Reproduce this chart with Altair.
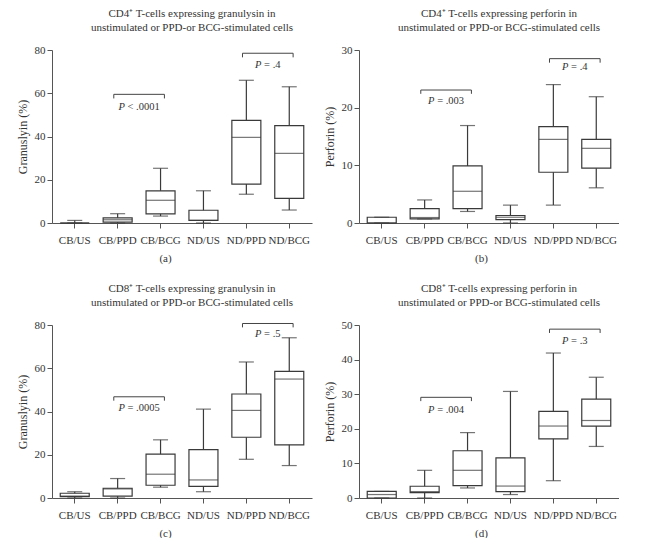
import altair as alt
import pandas as pd

FONT = "Liberation Serif"
INK = "#3a3a3a"

cats = ["CB/US", "CB/PPD", "CB/BCG", "ND/US", "ND/PPD", "ND/BCG"]

# (a) CD4+ granulysin
a_min = [0, 0, 3.2, 0, 13.3, 6]
a_q1 = [0, 0.4, 4.2, 1.2, 18, 11.4]
a_med = [0, 1.5, 10.5, 1.2, 39.6, 32.2]
a_q3 = [0, 2.4, 14.9, 5.9, 47.5, 45]
a_max = [1.2, 4.3, 25.3, 14.9, 66, 63]

# (b) CD4+ perforin
b_min = [0, 0.7, 2.0, 0, 3.1, 6.1]
b_q1 = [0, 0.7, 2.5, 0.6, 8.8, 9.5]
b_med = [0, 0.95, 5.5, 1.0, 14.5, 12.95]
b_q3 = [1.0, 2.5, 9.9, 1.3, 16.7, 14.5]
b_max = [1.0, 4.0, 16.9, 3.1, 24.0, 21.9]

# (c) CD8+ granulysin
c_min = [0, 0, 5.0, 2.9, 17.9, 15]
c_q1 = [0.6, 0.9, 5.9, 5.4, 28.1, 24.6]
c_med = [0.9, 4.2, 11, 8.35, 40.5, 55.0]
c_q3 = [2.2, 4.5, 20.3, 22.4, 48.1, 58.6]
c_max = [2.9, 9.0, 26.9, 41.1, 62.9, 74.1]

# (d) CD8+ perforin
d_min = [0, 0, 2.9, 1.0, 5.0, 14.9]
d_q1 = [0, 1.55, 3.6, 1.85, 17.1, 20.8]
d_med = [1.0, 1.85, 8.0, 3.45, 20.8, 22.4]
d_q3 = [1.9, 3.4, 13.65, 11.6, 25.05, 28.6]
d_max = [1.9, 8.0, 18.9, 30.8, 41.9, 34.9]

# y-axis ranges and tick steps (labels 0..max by step)
a_axis = (80, 20)
b_axis = (30, 10)
c_axis = (80, 20)
d_axis = (50, 10)

# brackets: (first, second, bracket level, tick end level, label level, label)
a_br = [("CB/PPD", "CB/BCG", 59.5, 57.6, 53.8, "< .0001"),
        ("ND/PPD", "ND/BCG", 78.5, 76.6, 73.0, "= .4")]
b_br = [("CB/PPD", "CB/BCG", 23.06, 22.4, 21.2, "= .003"),
        ("ND/PPD", "ND/BCG", 28.5, 27.8, 27.0, "= .4")]
c_br = [("CB/PPD", "CB/BCG", 46.8, 45.0, 41.6, "= .0005"),
        ("ND/PPD", "ND/BCG", 80.7, 78.9, 76.0, "= .5")]
d_br = [("CB/PPD", "CB/BCG", 29.1, 28.0, 25.5, "= .004"),
        ("ND/PPD", "ND/BCG", 48.8, 47.7, 45.4, "= .3")]

PFS = 10.5
CW = {"P": 0.611, " ": 0.25, "<": 0.564, "=": 0.564, ".": 0.25}


def tw(s):
    return sum(CW.get(ch, 0.5) for ch in s) * PFS


def panel(key, title_lines, ytitle, yaxis, caption, cap_x, mins, q1s, meds, q3s, maxs, brackets):
    ymax, ystep = yaxis
    lo, q1, md, q3, hi = (f"{key}_lo", f"{key}_q1", f"{key}_med", f"{key}_q3", f"{key}_hi")
    df = pd.DataFrame({"cat": cats, lo: mins, q1: q1s, md: meds, q3: q3s, hi: maxs})
    xs = alt.Scale(domain=cats, paddingInner=0, paddingOuter=0.03)
    ys = alt.Scale(domain=[0, ymax], nice=False, zero=True)
    xax = alt.Axis(title=caption, labelAngle=0, tickSize=5, labelPadding=6,
                   titlePadding=7, titleX=cap_x, labelFont=FONT, labelFontSize=11,
                   titleFont=FONT, titleFontSize=11, titleFontWeight="normal",
                   labelColor="#333", titleColor="#333", domainColor="#555", tickColor="#555")
    yax = alt.Axis(title=ytitle, tickCount=int(ymax / ystep), tickSize=5, labelPadding=2,
                   grid=False, labelOverlap=False, titlePadding=5, labelFont=FONT,
                   labelFontSize=11, titleFont=FONT, titleFontSize=12, titleFontWeight="normal",
                   labelColor="#333", titleColor="#333", domainColor="#555", tickColor="#555")
    X = alt.X("cat:N", scale=xs, axis=xax, sort=cats)
    whisk = alt.Chart(df).mark_rule(color=INK, strokeWidth=1.2).encode(
        x=X, y=alt.Y(f"{lo}:Q", scale=ys, axis=yax), y2=f"{hi}:Q")
    box = alt.Chart(df).mark_bar(width=29, fill="white", stroke=INK, strokeWidth=1.2).encode(
        x=X, y=f"{q1}:Q", y2=f"{q3}:Q")
    med = alt.Chart(df).mark_tick(size=29, thickness=1.2, color=INK).encode(x=X, y=f"{md}:Q")
    caplo = alt.Chart(df).mark_tick(size=15, thickness=1.2, color=INK).encode(x=X, y=f"{lo}:Q")
    caphi = alt.Chart(df).mark_tick(size=15, thickness=1.2, color=INK).encode(x=X, y=f"{hi}:Q")
    layers = [whisk, box, med, caplo, caphi]
    for (c1, c2, yb, ye, yt, lab) in brackets:
        bdf = pd.DataFrame(dict(c1=[c1], c2=[c2], yb=[yb], ye=[ye], yt=[yt]))
        base = alt.Chart(bdf)
        layers.append(base.mark_rule(color="#444", strokeWidth=1).encode(
            x=alt.X("c1:N", bandPosition=0.41), x2=alt.X2("c2:N", bandPosition=0.59), y="yb:Q"))
        layers.append(base.mark_rule(color="#444", strokeWidth=1).encode(
            x=alt.X("c1:N", bandPosition=0.41), y="yb:Q", y2="ye:Q"))
        layers.append(base.mark_rule(color="#444", strokeWidth=1).encode(
            x=alt.X("c2:N", bandPosition=0.59), y="yb:Q", y2="ye:Q"))
        W = tw("P") + tw(" ") + tw(lab)
        dxp = -W / 2 + tw("P")
        layers.append(base.mark_text(text="P", font=FONT, fontSize=PFS, fontStyle="italic",
                                     align="right", baseline="middle", dx=dxp, color="#333").encode(
            x=alt.X("c1:N", bandPosition=1), y="yt:Q"))
        layers.append(base.mark_text(text=lab, font=FONT, fontSize=PFS, align="left",
                                     baseline="middle", dx=dxp + tw(" "), color="#333").encode(
            x=alt.X("c1:N", bandPosition=1), y="yt:Q"))
    return alt.layer(*layers).properties(
        width=260, height=173,
        title=alt.TitleParams(text=title_lines, font=FONT, fontSize=11, fontWeight="normal",
                              color="#333", lineHeight=14, offset=11, anchor="middle",
                              frame="group", dx=10))


pa = panel("a", ["CD4⁺ T-cells expressing granulysin in", "unstimulated or PPD-or BCG-stimulated cells"],
           "Granuslyin (%)", a_axis, "(a)", 113,
           a_min, a_q1, a_med, a_q3, a_max, a_br)
pb = panel("b", ["CD4⁺ T-cells expressing perforin in", "unstimulated or PPD-or BCG-stimulated cells"],
           "Perforin (%)", b_axis, "(b)", 122,
           b_min, b_q1, b_med, b_q3, b_max, b_br)
pc = panel("c", ["CD8⁺ T-cells expressing granulysin in", "unstimulated or PPD-or BCG-stimulated cells"],
           "Granuslyin (%)", c_axis, "(c)", 113,
           c_min, c_q1, c_med, c_q3, c_max, c_br)
pd_ = panel("d", ["CD8⁺ T-cells expressing perforin in", "unstimulated or PPD-or BCG-stimulated cells"],
            "Perforin (%)", d_axis, "(d)", 122,
            d_min, d_q1, d_med, d_q3, d_max, d_br)

top = alt.hconcat(pa, pb, spacing=11)
bottom = alt.hconcat(pc, pd_, spacing=11)
chart = alt.vconcat(top, bottom, spacing=20).properties(
    padding={"left": 8, "top": 0, "right": 0, "bottom": 0},
    background="white",
).configure_view(stroke=None).configure_axisY(labelOverlap=False)

chart.save("out.html", embed_options={"renderer": "svg", "actions": False})
